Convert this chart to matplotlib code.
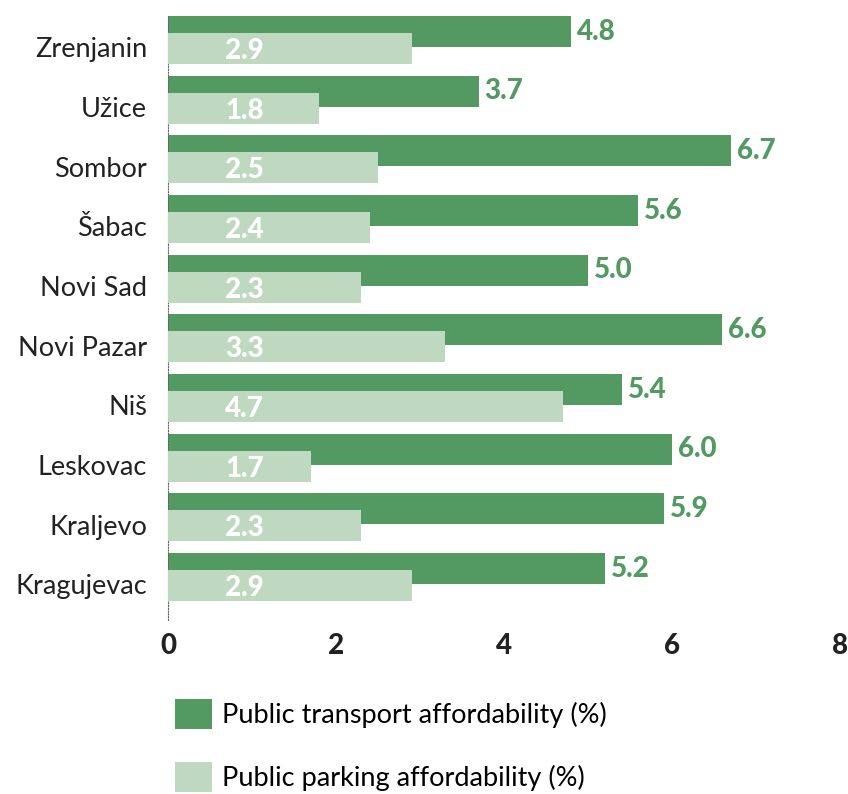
import matplotlib
matplotlib.use("Agg")
import matplotlib.pyplot as plt
from matplotlib.patches import Patch
import numpy as np

plt.rcParams['font.family'] = ['Lato', 'DejaVu Sans']

cities = ["Zrenjanin", "Užice", "Sombor", "Šabac", "Novi Sad",
          "Novi Pazar", "Niš", "Leskovac", "Kraljevo", "Kragujevac"]
transport = [4.8, 3.7, 6.7, 5.6, 5.0, 6.6, 5.4, 6.0, 5.9, 5.2]
parking = [2.9, 1.8, 2.5, 2.4, 2.3, 3.3, 4.7, 1.7, 2.3, 2.9]

dark = "#529962"
light = "#bfd9c1"

W, H = 848, 794
fig = plt.figure(figsize=(W / 100, H / 100), dpi=100)
ax = fig.add_axes([168 / W, 1 - 620 / H, (840 - 168) / W, (620 - 15) / H])

y = np.arange(len(cities))
off = 0.142
h = 0.52
ax.barh(y - off, transport, height=h, color=dark, zorder=2)
ax.barh(y + off, parking, height=h, color=light, zorder=3)

num_font = dict(fontsize=20, fontweight="black")
for yi, v in zip(y, transport):
    ax.text(v + 0.07, yi - off, f"{v:.1f}", va="center", ha="left",
            color=dark, **num_font)
for yi, v in zip(y, parking):
    ax.text(0.68, yi + off + 0.04, f"{v:.1f}", va="center", ha="left",
            color="white", zorder=4, **num_font)

ax.set_xlim(0, 8)
ax.set_ylim(9.72, -0.42)
ax.set_xticks([0, 2, 4, 6, 8])
ax.set_xticklabels(["0", "2", "4", "6", "8"], color="#222222", **num_font)
# city names sit a little below the middle of each pair of bars
ax.set_yticks(y + 0.12)
ax.set_yticklabels(cities, fontsize=19.5, color="#222222")
ax.tick_params(axis="both", length=0)
ax.tick_params(axis="y", pad=15)
ax.tick_params(axis="x", pad=9)
for s in ["top", "right", "bottom"]:
    ax.spines[s].set_visible(False)
ax.spines["left"].set_linestyle((0, (1, 1.5)))
ax.spines["left"].set_color("#666666")
ax.spines["left"].set_linewidth(0.8)

handles = [Patch(facecolor=dark, label="Public transport affordability (%)"),
           Patch(facecolor=light, label="Public parking affordability (%)")]
fig.legend(handles=handles, loc="upper left", bbox_to_anchor=(175 / W, 1 - 699 / H),
           frameon=False, fontsize=19.5, handlelength=1.35, handleheight=1.35,
           handletextpad=0.4, labelspacing=1.2, borderaxespad=0, borderpad=0)

fig.savefig("out.png", dpi=100)
